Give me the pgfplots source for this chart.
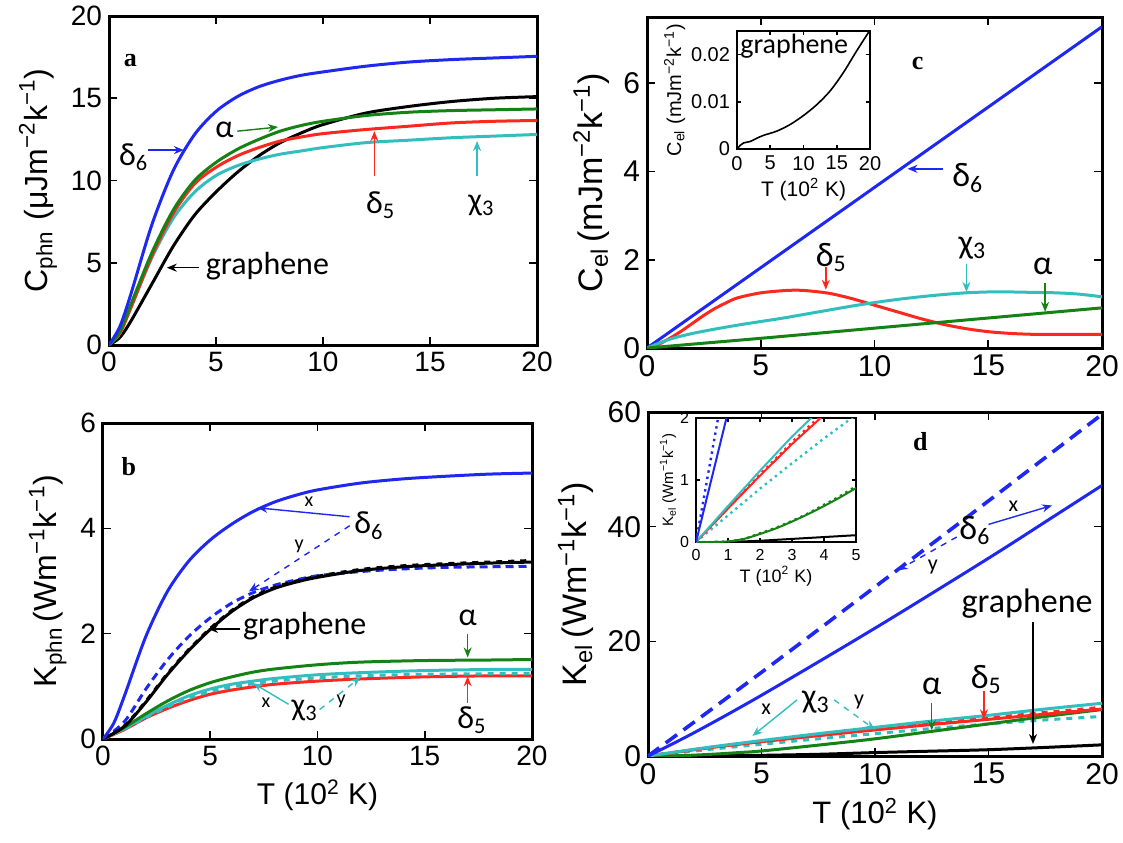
\documentclass[border=0pt]{standalone}
\usepackage{fontspec}
\setmainfont{Liberation Sans}
\newfontfamily\annfont{Carlito}
\newfontfamily\letfont{Liberation Serif}
\usepackage{pgfplots}
\pgfplotsset{compat=1.18}
\usetikzlibrary{arrows.meta}
\definecolor{mblue}{RGB}{30,40,240}
\definecolor{mgreen}{RGB}{20,130,20}
\definecolor{mred}{RGB}{250,40,30}
\definecolor{mcyan}{RGB}{50,190,190}
\pgfplotsset{
  panel/.style={scale only axis, anchor=south west, xmin=0, xmax=20, xtick={0,5,10,15,20},
    axis line style={line width=1.5pt}, tick align=inside, xtick pos=both, ytick pos=both,
    major tick length=4pt, every tick/.append style={black, line width=0.8pt},
    /pgf/number format/assume math mode=true,
    ylabel style={font=\fontsize{16}{18}\selectfont},
    xlabel style={font=\fontsize{15}{17}\selectfont},
    tick label style={font=\fontsize{14}{16}\selectfont},
  },
  cv/.style={line width=1.5pt, smooth, no markers},
}
\tikzset{
  ar/.style={line width=0.7pt, -{Stealth[length=5pt,width=4pt]}},
  ann/.style={font=\annfont\fontsize{16}{18}\selectfont, inner sep=0pt},
  sm/.style={font=\annfont\fontsize{10}{11}\selectfont, inner sep=0pt},
  plet/.style={font=\letfont\bfseries\fontsize{13}{13}\selectfont, inner sep=0pt},
}
\begin{document}
\begin{tikzpicture}
\path[use as bounding box] (0,0) rectangle (561.5pt,-421pt);

% ---------------- panel a ----------------
\begin{axis}[panel, at={(54.5pt,-172.5pt)}, width=214pt, height=164.5pt,
  ymin=0, ymax=20, ytick={0,5,10,15,20},
  ylabel={C\textsubscript{phn}\,\,(μJm\textsuperscript{−2}k\textsuperscript{−1})}]
\addplot[cv, black] coordinates {(0,0)(0.5,0.45)(1,1.4)(2,3.7)(3,6.0)(4,7.9)(5,9.3)(6,10.5)(7,11.5)(8,12.3)(9,12.9)(10,13.4)(12,14.1)(14,14.5)(16,14.8)(18,15.0)(20,15.1)};
\addplot[cv, mcyan] coordinates {(0,0)(0.5,0.7)(1,2.2)(2,5.3)(3,7.7)(4,9.3)(5,10.3)(6,10.9)(7,11.3)(8,11.6)(9,11.8)(10,12.0)(12,12.3)(14,12.45)(16,12.6)(18,12.7)(20,12.8)};
\addplot[cv, mred] coordinates {(0,0)(0.5,0.7)(1,2.2)(2,5.4)(3,8.0)(4,9.8)(5,10.8)(6,11.5)(7,12.0)(8,12.4)(9,12.65)(10,12.85)(12,13.1)(14,13.3)(16,13.5)(18,13.6)(20,13.65)};
\addplot[cv, mgreen] coordinates {(0,0)(0.5,0.8)(1,2.4)(2,5.6)(3,8.2)(4,10.0)(5,11.1)(6,11.9)(7,12.5)(8,13.0)(9,13.35)(10,13.6)(12,13.95)(14,14.15)(16,14.25)(18,14.3)(20,14.35)};
\addplot[cv, mblue] coordinates {(0,0)(0.5,1.1)(1,3.0)(2,7.3)(3,10.6)(4,12.8)(5,14.2)(6,15.1)(7,15.7)(8,16.1)(9,16.4)(10,16.6)(12,16.95)(14,17.2)(16,17.35)(18,17.45)(20,17.55)};
\node[plet] at (axis cs:1.0,17.3) {a};
\node[ann] at (axis cs:1.15,11.4) {δ\textsubscript{6}};
\draw[ar, mblue] (axis cs:1.8,11.85) -- (axis cs:3.5,11.85);
\node[ann] at (axis cs:5.4,13.1) {α};
\draw[ar, mgreen] (axis cs:6.0,13.0) -- (axis cs:7.9,13.25);
\node[ann] at (axis cs:12.7,8.5) {δ\textsubscript{5}};
\draw[ar, mred] (axis cs:12.4,10.3) -- (axis cs:12.4,13.0);
\node[ann] at (axis cs:17.4,8.5) {χ\textsubscript{3}};
\draw[ar, mcyan] (axis cs:17.2,10.3) -- (axis cs:17.2,12.4);
\node[ann] at (axis cs:7.4,4.8) {graphene};
\draw[ar, black] (axis cs:4.2,4.7) -- (axis cs:2.7,4.7);
\end{axis}

% ---------------- panel b ----------------
\begin{axis}[panel, at={(51.5pt,-369.5pt)}, width=214.5pt, height=158pt,
  ymin=0, ymax=6, ytick={0,2,4,6},
  ylabel={K\textsubscript{phn}\,(Wm\textsuperscript{−1}k\textsuperscript{−1})},
  xlabel={T (10\textsuperscript{2} K)}]
\addplot[cv, mred] coordinates {(0,0)(1,0.18)(2,0.4)(3,0.58)(4,0.73)(5,0.85)(6,0.93)(7,0.99)(8,1.04)(10,1.1)(12,1.14)(15,1.18)(18,1.2)(20,1.2)};
\addplot[cv, mcyan, dashed] coordinates {(0,0)(1,0.19)(2,0.41)(3,0.61)(4,0.78)(5,0.9)(6,0.99)(7,1.05)(8,1.1)(10,1.16)(12,1.2)(15,1.23)(18,1.24)(20,1.24)};
\addplot[cv, mcyan] coordinates {(0,0)(1,0.2)(2,0.43)(3,0.64)(4,0.82)(5,0.95)(6,1.04)(7,1.1)(8,1.15)(10,1.22)(12,1.26)(15,1.3)(18,1.32)(20,1.32)};
\addplot[cv, mgreen] coordinates {(0,0)(1,0.22)(2,0.48)(3,0.72)(4,0.92)(5,1.07)(6,1.18)(7,1.27)(8,1.33)(10,1.41)(12,1.46)(15,1.49)(18,1.5)(20,1.51)};
\addplot[cv, mblue, dash pattern=on 4pt off 2.5pt] coordinates {(0,0)(1,0.33)(2,0.95)(3,1.5)(4,1.95)(5,2.3)(6,2.58)(7,2.78)(8,2.92)(9,3.02)(10,3.1)(12,3.18)(14,3.23)(16,3.26)(18,3.27)(20,3.28)};
\addplot[cv, black] coordinates {(0,0)(1,0.24)(2,0.7)(3,1.22)(4,1.68)(5,2.08)(6,2.42)(7,2.68)(8,2.86)(9,2.98)(10,3.07)(12,3.2)(14,3.27)(16,3.31)(18,3.34)(20,3.36)};
\addplot[cv, black, dashed] coordinates {(0,0)(1,0.25)(2,0.72)(3,1.24)(4,1.7)(5,2.1)(6,2.44)(7,2.7)(8,2.88)(9,3.0)(10,3.09)(12,3.22)(14,3.29)(16,3.33)(18,3.36)(20,3.39)};
\addplot[cv, mblue] coordinates {(0,0)(0.5,0.3)(1,0.82)(2,1.95)(3,2.8)(4,3.38)(5,3.78)(6,4.08)(7,4.32)(8,4.5)(9,4.63)(10,4.73)(12,4.86)(14,4.94)(16,4.99)(18,5.03)(20,5.05)};
\node[plet] at (axis cs:1.2,5.18) {b};
\node[ann] at (axis cs:12.4,4.05) {δ\textsubscript{6}};
\node[sm] at (axis cs:9.6,4.5) {x};
\draw[ar, mblue] (axis cs:11.5,4.22) -- (axis cs:7.2,4.39);
\node[sm] at (axis cs:9.15,3.66) {y};
\draw[ar, mblue, dashed] (axis cs:11.5,4.05) -- (axis cs:6.8,2.8);
\node[ann] at (axis cs:9.4,2.14) {graphene};
\draw[ar, black] (axis cs:6.4,2.09) -- (axis cs:4.9,2.09);
\node[ann] at (axis cs:17.0,2.3) {α};
\draw[ar, mgreen] (axis cs:17.0,2.0) -- (axis cs:17.0,1.55);
\node[ann] at (axis cs:17.2,0.35) {δ\textsubscript{5}};
\draw[ar, mred] (axis cs:17.0,0.68) -- (axis cs:17.0,1.19);
\node[ann] at (axis cs:9.4,0.55) {χ\textsubscript{3}};
\node[sm] at (axis cs:7.6,0.68) {x};
\draw[ar, mcyan] (axis cs:8.65,0.66) -- (axis cs:7.0,1.06);
\node[sm] at (axis cs:11.1,0.72) {y};
\draw[ar, mcyan, dashed] (axis cs:10.1,0.56) -- (axis cs:12.0,1.17);
\end{axis}

% ---------------- panel c ----------------
\begin{axis}[panel, at={(323.5pt,-174pt)}, width=227.5pt, height=165.5pt,
  ymin=0, ymax=7.5, ytick={0,2,4,6},
  tick label style={font=\fontsize{15}{17}\selectfont},
  ylabel style={font=\fontsize{17}{19}\selectfont},
  ylabel={C\textsubscript{el}\,(mJm\textsuperscript{−2}k\textsuperscript{−1})}]
\addplot[cv, mblue] coordinates {(0,0)(10,3.64)(20,7.28)};
\addplot[cv, mred] coordinates {(0,0)(0.5,0.08)(1,0.22)(1.5,0.38)(2,0.56)(2.5,0.74)(3,0.9)(3.5,1.03)(4,1.14)(5,1.25)(6,1.3)(6.5,1.31)(7,1.3)(8,1.24)(9,1.12)(10,0.97)(11,0.82)(12,0.67)(13,0.54)(14,0.44)(15,0.37)(16,0.33)(17,0.31)(18,0.31)(20,0.31)};
\addplot[cv, mcyan] coordinates {(0,0)(1,0.2)(2,0.33)(3,0.43)(4,0.52)(5,0.6)(6,0.68)(7,0.77)(8,0.86)(9,0.95)(10,1.03)(11,1.1)(12,1.16)(13,1.21)(14,1.25)(15,1.27)(16,1.27)(17,1.26)(18,1.25)(19,1.22)(20,1.16)};
\addplot[cv, mgreen] coordinates {(0,0)(5,0.22)(10,0.45)(15,0.68)(20,0.91)};
\node[plet] at (axis cs:11.9,6.45) {c};
\node[ann, font=\annfont\fontsize{17}{19}\selectfont] at (axis cs:14.1,3.85) {δ\textsubscript{6}};
\draw[ar, mblue] (axis cs:13.0,4.06) -- (axis cs:11.45,4.06);
\node[ann, font=\annfont\fontsize{17}{19}\selectfont] at (axis cs:8.1,2.05) {δ\textsubscript{5}};
\draw[ar, mred] (axis cs:7.86,1.83) -- (axis cs:7.86,1.32);
\node[ann, font=\annfont\fontsize{17}{19}\selectfont] at (axis cs:14.3,2.27) {χ\textsubscript{3}};
\draw[ar, mcyan] (axis cs:14.04,1.9) -- (axis cs:14.04,1.27);
\node[ann, font=\annfont\fontsize{17}{19}\selectfont] at (axis cs:17.4,1.86) {α};
\draw[ar, mgreen] (axis cs:17.5,1.47) -- (axis cs:17.5,0.82);
\end{axis}

% inset c
\begin{axis}[panel, at={(368.5pt,-74.5pt)}, width=66.5pt, height=59pt,
  axis background/.style={fill=white},
  axis line style={line width=1pt}, major tick length=2pt,
  ymin=0, ymax=0.025, ytick={0,0.01,0.02}, yticklabels={0,0.01,0.02},
  scaled y ticks=false,
  tick label style={font=\fontsize{10}{11}\selectfont},
  xlabel style={font=\fontsize{10.5}{12}\selectfont},
  ylabel style={font=\fontsize{10}{11}\selectfont},
  xlabel={T (10\textsuperscript{2} K)},
  ylabel={C\textsubscript{el} (mJm\textsuperscript{−2}k\textsuperscript{−1})},
  xlabel shift=-3pt, ylabel shift=-4pt]
\addplot[smooth, black, line width=0.8pt] coordinates {(0,0)(0.5,0.0008)(1,0.0013)(2,0.0016)(3,0.0023)(4,0.0029)(6,0.0038)(8,0.0052)(10,0.0071)(12,0.0094)(14,0.0123)(16,0.0162)(18,0.0208)(20,0.0252)};
\node[font=\annfont\fontsize{14}{15}\selectfont, inner sep=0pt] at (axis cs:8.6,0.0218) {graphene};
\end{axis}

% ---------------- panel d ----------------
\begin{axis}[panel, at={(324pt,-378pt)}, width=227pt, height=172pt,
  ymin=0, ymax=60, ytick={0,20,40,60},
  tick label style={font=\fontsize{15}{17}\selectfont},
  ylabel style={font=\fontsize{17}{19}\selectfont},
  xlabel style={font=\fontsize{15.5}{17}\selectfont},
  ylabel={K\textsubscript{el}\,(Wm\textsuperscript{−1}k\textsuperscript{−1})},
  xlabel={T (10\textsuperscript{2} K)}]
\addplot[cv, black] coordinates {(0,0)(1,0.0)(2,0.02)(3,0.05)(4,0.08)(5,0.12)(7.5,0.3)(10,0.6)(12.5,0.85)(15,1.1)(17.5,1.5)(20,1.95)};
\addplot[cv, mcyan, dashed] coordinates {(0,0)(1,0.43)(2,0.86)(3,1.27)(4,1.67)(5,2.05)(7.5,3.0)(10,3.9)(12.5,4.8)(15,5.6)(17.5,6.3)(20,6.9)};
\addplot[cv, mgreen] coordinates {(0,0)(1,0.02)(2,0.15)(3,0.35)(4,0.6)(5,0.88)(7.5,1.9)(10,3.0)(12.5,4.3)(15,5.6)(17.5,6.9)(20,8.1)};
\addplot[cv, mred] coordinates {(0,0)(1,0.54)(2,1.07)(3,1.58)(4,2.05)(5,2.5)(7.5,3.55)(10,4.55)(12.5,5.5)(15,6.4)(17.5,7.3)(20,8.2)};
\addplot[cv, mred, dashed] coordinates {(0,0)(1,0.56)(2,1.1)(3,1.62)(4,2.1)(5,2.56)(7.5,3.65)(10,4.7)(12.5,5.7)(15,6.65)(17.5,7.6)(20,8.5)};
\addplot[cv, mcyan] coordinates {(0,0)(1,0.58)(2,1.15)(3,1.7)(4,2.2)(5,2.7)(7.5,3.9)(10,5.0)(12.5,6.1)(15,7.1)(17.5,8.2)(20,9.2)};
\addplot[cv, mblue] coordinates {(0,0)(2,4.0)(5,10.6)(10,22.3)(15,34.5)(17.8,41.6)(20,47.2)};
\addplot[cv, mblue, line width=1.8pt, dash pattern=on 7pt off 4pt] coordinates {(0,0)(5,14.6)(10,29.5)(15,44.5)(20,59.6)};
\node[plet] at (axis cs:12.0,54.9) {d};
\node[ann, font=\annfont\fontsize{17}{19}\selectfont] at (axis cs:14.4,39.3) {δ\textsubscript{6}};
\node[sm, font=\annfont\fontsize{11}{12}\selectfont] at (axis cs:16.1,43.5) {x};
\draw[ar, mblue] (axis cs:15.0,40.4) -- (axis cs:17.8,43.7);
\node[sm, font=\annfont\fontsize{11}{12}\selectfont] at (axis cs:12.55,33) {y};
\draw[ar, mblue, dashed] (axis cs:13.6,38.2) -- (axis cs:11.0,32.4);
\node[ann, font=\annfont\fontsize{17}{19}\selectfont] at (axis cs:16.7,26.5) {graphene};
\draw[ar, black] (axis cs:16.96,23.3) -- (axis cs:16.96,2.1);
\node[ann, font=\annfont\fontsize{17}{19}\selectfont] at (axis cs:14.9,13.3) {δ\textsubscript{5}};
\draw[ar, mred] (axis cs:14.8,11.3) -- (axis cs:14.8,6.4);
\node[ann, font=\annfont\fontsize{17}{19}\selectfont] at (axis cs:12.5,12.2) {α};
\draw[ar, mgreen] (axis cs:12.5,9.25) -- (axis cs:12.5,4.5);
\node[ann, font=\annfont\fontsize{17}{19}\selectfont] at (axis cs:7.4,9.4) {χ\textsubscript{3}};
\node[sm, font=\annfont\fontsize{11}{12}\selectfont] at (axis cs:5.2,8.1) {x};
\draw[ar, mcyan] (axis cs:6.57,9.8) -- (axis cs:4.6,3.5);
\node[sm, font=\annfont\fontsize{11}{12}\selectfont] at (axis cs:9.3,9.5) {y};
\draw[ar, mcyan, dashed] (axis cs:8.2,9.8) -- (axis cs:10.0,4.6);
\end{axis}

% inset d
\begin{axis}[panel, at={(348pt,-271pt)}, width=80pt, height=62pt,
  axis background/.style={fill=white},
  axis line style={line width=1pt}, major tick length=2pt,
  xmin=0, xmax=5, xtick={0,1,2,3,4,5},
  ymin=0, ymax=2, ytick={0,1,2},
  tick label style={font=\fontsize{8}{9}\selectfont},
  xlabel style={font=\fontsize{9}{10}\selectfont},
  ylabel style={font=\fontsize{7.5}{8.5}\selectfont},
  xlabel={T (10\textsuperscript{2} K)},
  ylabel={K\textsubscript{el} (Wm\textsuperscript{−1}k\textsuperscript{−1})},
  xlabel shift=-4pt, ylabel shift=-5pt]
\addplot[black, line width=1pt] coordinates {(0,0)(1,0)(1.5,0.01)(2,0.02)(3,0.05)(4,0.08)(5,0.11)};
\addplot[smooth, mgreen, line width=1pt] coordinates {(0,0)(0.5,0)(1,0.01)(1.5,0.05)(2,0.13)(2.5,0.22)(3,0.33)(3.5,0.45)(4,0.58)(4.5,0.72)(5,0.87)};
\addplot[smooth, mgreen, line width=1.2pt, dotted] coordinates {(0,0)(0.5,0)(1,0.01)(1.5,0.05)(2,0.14)(2.5,0.23)(3,0.34)(3.5,0.46)(4,0.6)(4.5,0.74)(5,0.9)};
\addplot[mcyan, line width=1.2pt, dotted] coordinates {(0,0)(1,0.43)(2,0.86)(3,1.27)(4,1.67)(5,2.05)};
\addplot[mred, line width=1pt] coordinates {(0,0)(1,0.54)(2,1.07)(3,1.58)(4,2.05)};
\addplot[mred, line width=1.2pt, dotted] coordinates {(0,0)(1,0.55)(2,1.09)(3,1.61)(4,2.09)};
\addplot[mcyan, line width=1pt] coordinates {(0,0)(1,0.58)(2,1.15)(3,1.7)(4,2.2)};
\addplot[mblue, line width=1pt] coordinates {(0,0)(0.5,1.05)(1,2.1)};
\addplot[mblue, line width=1.2pt, dotted] coordinates {(0,0)(0.5,1.45)(1,2.9)};
\end{axis}
\end{tikzpicture}
\end{document}
